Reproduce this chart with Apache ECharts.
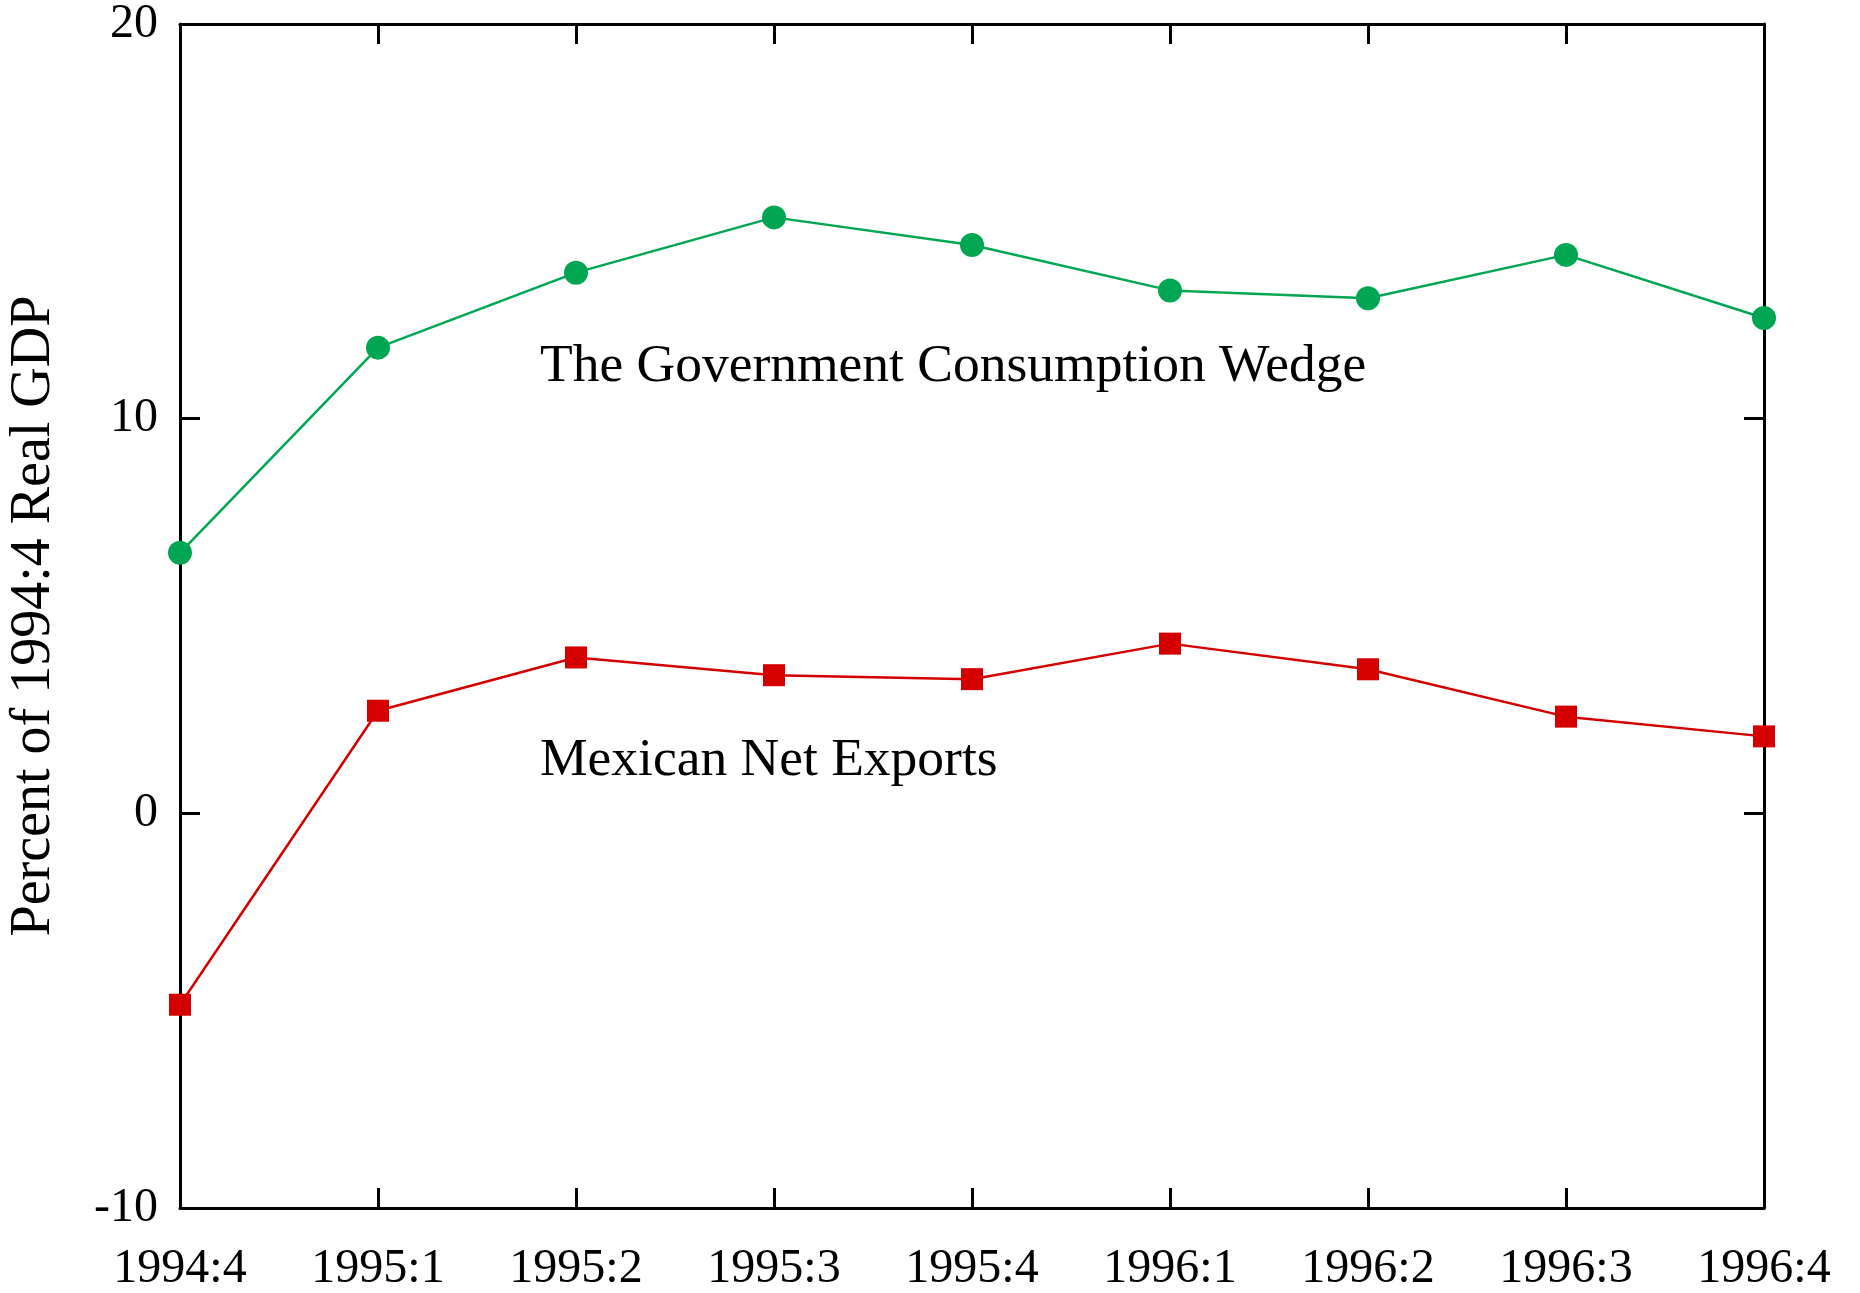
<!DOCTYPE html>
<html lang="en" style="height: 100%">
<head>
    <meta charset="UTF-8">
    <title>Government Consumption Wedge</title>
</head>
<body style="height: 100%; margin: 0; background: #ffffff;">
    <div id="container" style="width: 1860px; height: 1293px;"></div>
    <script type="text/javascript" src="https://cdn.jsdelivr.net/npm/echarts@6/dist/echarts.min.js"></script>
    <script type="text/javascript">
        var quarters = ['1994:4', '1995:1', '1995:2', '1995:3', '1995:4', '1996:1', '1996:2', '1996:3', '1996:4'];
        var govWedge = [6.6, 11.8, 13.7, 15.1, 14.4, 13.25, 13.05, 14.15, 12.55];
        var netExports = [-4.85, 2.6, 3.95, 3.5, 3.4, 4.3, 3.65, 2.45, 1.95];
        var yTicks = [-10, 0, 10, 20];

        var font = '"Liberation Serif", "Times New Roman", serif';
        var green = '#00a651';
        var red = '#d40000';

        var dom = document.getElementById('container');
        var myChart = echarts.init(dom);

        var axisLine = { show: true, onZero: false, lineStyle: { color: '#000', width: 3 } };
        var axisTick = { show: true, inside: true, length: 20, lineStyle: { color: '#000', width: 3 } };

        var option = {
            animation: false,
            grid: { left: 180, right: 96, top: 24, bottom: 85, containLabel: false, outerBoundsMode: 'none' },
            xAxis: [{
                type: 'category',
                data: quarters,
                boundaryGap: false,
                axisLine: axisLine,
                axisTick: axisTick,
                axisLabel: { fontFamily: font, fontSize: 48, color: '#000', margin: 37 },
                splitLine: { show: false }
            }, {
                type: 'category',
                data: quarters,
                boundaryGap: false,
                position: 'top',
                axisLine: axisLine,
                axisTick: axisTick,
                axisLabel: { show: false },
                splitLine: { show: false }
            }],
            yAxis: [{
                type: 'value',
                min: yTicks[0],
                max: yTicks[yTicks.length - 1],
                interval: 10,
                name: 'Percent of 1994:4 Real GDP',
                nameLocation: 'middle',
                nameGap: 118,
                nameTextStyle: { fontFamily: font, fontSize: 56, color: '#000' },
                axisLine: axisLine,
                axisTick: axisTick,
                axisLabel: { fontFamily: font, fontSize: 48, color: '#000', margin: 22 },
                splitLine: { show: false }
            }, {
                type: 'value',
                min: yTicks[0],
                max: yTicks[yTicks.length - 1],
                interval: 10,
                position: 'right',
                axisLine: axisLine,
                axisTick: axisTick,
                axisLabel: { show: false },
                splitLine: { show: false }
            }],
            series: [{
                name: 'The Government Consumption Wedge',
                type: 'line',
                data: govWedge,
                symbol: 'circle',
                symbolSize: 24,
                itemStyle: { color: green },
                lineStyle: { color: green, width: 2.5 },
                z: 3
            }, {
                name: 'Mexican Net Exports',
                type: 'line',
                data: netExports,
                symbol: 'rect',
                symbolSize: 22,
                itemStyle: { color: red },
                lineStyle: { color: red, width: 2.5 },
                z: 3
            }],
            graphic: [{
                type: 'text',
                left: 540,
                top: 340,
                style: { text: 'The Government Consumption Wedge', font: '53.5px ' + font, fill: '#000' }
            }, {
                type: 'text',
                left: 540,
                top: 734,
                style: { text: 'Mexican Net Exports', font: '53.5px ' + font, fill: '#000' }
            }]
        };
        myChart.setOption(option);
    </script>
</body>
</html>
